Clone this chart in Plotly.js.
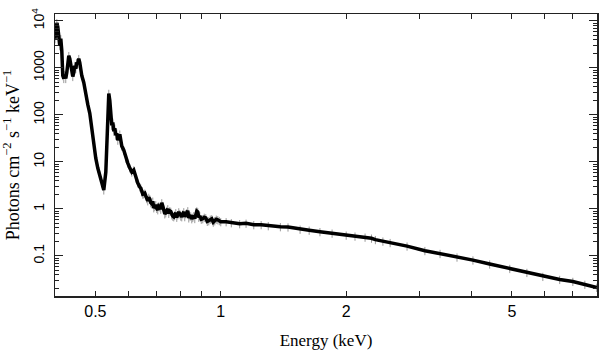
<!DOCTYPE html>
<html>
<head>
<meta charset="utf-8">
<script src="https://cdn.plot.ly/plotly-3.0.1.min.js"></script>
<style>html,body{margin:0;padding:0;background:#fff;}#chart{width:609px;height:359px;}</style>
</head>
<body>
<div id="chart"></div>
<script>
// Energy (keV) of each spectral bin
const energy = [
  0.400, 0.4017, 0.404, 0.4062, 0.4085, 0.4107, 0.413, 0.4153, 0.4176, 0.4199,
  0.4222, 0.4245, 0.4269, 0.4293, 0.4317, 0.4341, 0.4365, 0.4389, 0.4413, 0.4437,
  0.4462, 0.4487, 0.4511, 0.4536, 0.4561, 0.4587, 0.4638, 0.4689, 0.4741, 0.4794,
  0.4848, 0.4902, 0.4956, 0.5011, 0.5067, 0.5124, 0.5181, 0.5238, 0.5297, 0.5326,
  0.5356, 0.5385, 0.5415, 0.5445, 0.5475, 0.5506, 0.5536, 0.5567, 0.5598, 0.5629,
  0.5660, 0.5723, 0.5786, 0.5851, 0.5916, 0.5981, 0.6048, 0.6115, 0.6182, 0.6252,
  0.6321, 0.6391, 0.6426, 0.6462, 0.6498, 0.6534, 0.6570, 0.6607, 0.6643, 0.6680,
  0.6717, 0.6754, 0.6791, 0.6829, 0.6867, 0.6905, 0.6943, 0.6982, 0.7020, 0.7059,
  0.7098, 0.7137, 0.7177, 0.7217, 0.7257, 0.7297, 0.7338, 0.7379, 0.7419, 0.7460,
  0.7501, 0.7543, 0.7585, 0.7627, 0.7669, 0.7712, 0.7755, 0.7798, 0.7841, 0.7885,
  0.7928, 0.7972, 0.8016, 0.8061, 0.8105, 0.8150, 0.8195, 0.8241, 0.8287, 0.8333,
  0.8379, 0.8425, 0.8472, 0.8519, 0.8566, 0.8614, 0.8662, 0.8710, 0.8758, 0.8806,
  0.8855, 0.8904, 0.8978, 0.9052, 0.9128, 0.9204, 0.9281, 0.9358, 0.9436, 0.9515,
  0.9594, 0.9674, 0.9754, 0.9835, 0.9917, 1.000, 1.03, 1.06, 1.11, 1.15,
  1.20, 1.25, 1.30, 1.39, 1.45, 1.55, 1.63, 1.73, 1.85, 2.00,
  2.10, 2.22, 2.30, 2.35, 2.45, 2.55, 2.80, 3.09, 3.36, 3.69,
  4.03, 4.42, 4.94, 5.43, 5.93, 6.51, 7.00, 7.48, 7.99
];
// Flux (photons cm^-2 s^-1 keV^-1)
const flux = [
  4160, 6140, 9070, 7460, 4820, 2960, 4160, 2320, 685, 592,
  720, 592, 793, 1291, 1815, 1570, 1116, 875, 653, 793,
  1116, 964, 1291, 1230, 1570, 1291, 685, 488, 259, 167,
  108, 51.8, 22.6, 12.0, 7.38, 5.24, 3.55, 2.52, 6.07, 28.9,
  124, 285, 203, 84.3, 60, 69.4, 44.8, 51.8, 36.8, 40.6,
  28.9, 38.7, 21.6, 17.7, 12.0, 9.41, 7.38, 6.07, 6.7, 4.53,
  3.55, 2.92, 2.75, 2.40, 2.05, 2.08, 2.15, 1.88, 1.65, 1.48,
  1.75, 1.63, 1.35, 1.28, 1.45, 1.05, 1.12, 1.22, 1.02, 0.953,
  1.15, 1.10, 0.98, 1.34, 1.15, 0.953, 0.78, 0.823, 0.92, 1.0,
  0.80, 0.907, 0.88, 0.747, 0.70, 0.677, 0.74, 0.823, 0.66, 0.747,
  0.86, 0.784, 0.70, 0.677, 0.78, 0.865, 0.68, 0.784, 0.82, 0.907,
  0.64, 0.711, 0.70, 0.614, 0.66, 0.711, 0.62, 0.784, 0.90, 0.865,
  0.66, 0.711, 0.60, 0.614, 0.66, 0.645, 0.54, 0.557, 0.60, 0.614,
  0.52, 0.557, 0.60, 0.585, 0.56, 0.531, 0.53, 0.505, 0.482, 0.493,
  0.459, 0.46, 0.437, 0.416, 0.41, 0.368, 0.35, 0.326, 0.303, 0.275,
  0.262, 0.249, 0.237, 0.221, 0.205, 0.191, 0.161, 0.129, 0.112, 0.094,
  0.0813, 0.0669, 0.0537, 0.0442, 0.0364, 0.0314, 0.0285, 0.0247, 0.0213
];

// Axis ticks
const xTickVals = [0.5, 1, 2, 5];
const xTickText = ['0.5', '1', '2', '5'];
const xMinorVals = [0.4, 0.6, 0.7, 0.8, 0.9, 3, 4, 6, 7, 8];
const yTickVals = [0.1, 1, 10, 100, 1000, 10000];
const yTickText = ['0.1', '1', '10', '100', '1000', '10<sup>4</sup>'];
const yMinorVals = [
  0.02, 0.03, 0.04, 0.05, 0.06, 0.07, 0.08, 0.09,
  0.2, 0.3, 0.4, 0.5, 0.6, 0.7, 0.8, 0.9,
  2, 3, 4, 5, 6, 7, 8, 9,
  20, 30, 40, 50, 60, 70, 80, 90,
  200, 300, 400, 500, 600, 700, 800, 900,
  2000, 3000, 4000, 5000, 6000, 7000, 8000, 9000
];

const serif = 'Liberation Serif';
const sans = 'Liberation Sans';

const trace = {
  x: energy,
  y: flux,
  type: 'scatter',
  mode: 'lines',
  line: {color: '#000', width: 3.5, shape: 'linear'},
  error_y: {type: 'percent', value: 20, color: '#999', thickness: 1, width: 0},
  hoverinfo: 'skip'
};

const axisColor = '#222';
const layout = {
  width: 609,
  height: 359,
  margin: {l: 55, r: 12, t: 14, b: 63},
  paper_bgcolor: '#fff',
  plot_bgcolor: '#fff',
  showlegend: false,
  font: {family: sans, color: '#000'},
  xaxis: {
    type: 'log',
    range: [Math.log10(0.4), Math.log10(8)],
    tickmode: 'array',
    tickvals: xTickVals,
    ticktext: xTickText,
    ticks: 'inside',
    ticklen: 5,
    tickwidth: 1,
    tickcolor: axisColor,
    mirror: 'ticks',
    showline: true,
    linecolor: axisColor,
    linewidth: 1.5,
    showgrid: false,
    zeroline: false,
    minor: {tickmode: 'array', tickvals: xMinorVals, ticks: 'inside', ticklen: 5, tickwidth: 1, tickcolor: axisColor, showgrid: false},
    tickfont: {family: sans, size: 16, color: '#000'},
    title: {text: 'Energy (keV)', font: {family: serif, size: 17, color: '#000'}, standoff: 15}
  },
  yaxis: {
    type: 'log',
    range: [Math.log10(0.014), Math.log10(14000)],
    tickmode: 'array',
    tickvals: yTickVals,
    ticktext: yTickText,
    tickangle: -90,
    ticks: 'inside',
    ticklen: 8,
    tickwidth: 1,
    tickcolor: axisColor,
    mirror: 'ticks',
    showline: true,
    linecolor: axisColor,
    linewidth: 1.5,
    showgrid: false,
    zeroline: false,
    ticklabelstandoff: 4,
    minor: {tickmode: 'array', tickvals: yMinorVals, ticks: 'inside', ticklen: 4, tickwidth: 1, tickcolor: axisColor, showgrid: false},
    tickfont: {family: sans, size: 14, color: '#000'},
    title: {text: 'Photons cm<sup>\u22122</sup> s<sup>\u22121</sup> keV<sup>\u22121</sup>', font: {family: serif, size: 18, color: '#000'}, standoff: 6}
  }
};

Plotly.newPlot('chart', [trace], layout, {displayModeBar: false, staticPlot: true});
</script>
</body>
</html>
